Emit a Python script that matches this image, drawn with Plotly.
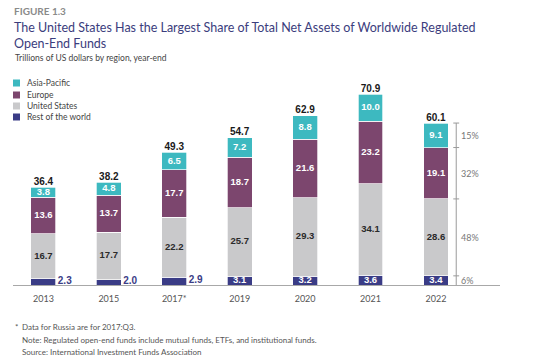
import plotly.graph_objects as go

years = ["2013", "2015", "2017*", "2019", "2020", "2021", "2022"]
asia_pacific = [3.8, 4.8, 6.5, 7.2, 8.8, 10.0, 9.1]
europe = [13.6, 13.7, 17.7, 18.7, 21.6, 23.2, 19.1]
united_states = [16.7, 17.7, 22.2, 25.7, 29.3, 34.1, 28.6]
rest_of_world = [2.3, 2.0, 2.9, 3.1, 3.2, 3.6, 3.4]
totals = [36.4, 38.2, 49.3, 54.7, 62.9, 70.9, 60.1]

C_ASIA = "#3DB9C0"
C_EUR = "#7C466E"
C_US = "#C9C9CB"
C_ROW = "#3A3C86"
TITLE_C = "#3B3D7D"

W, H = 550, 362
ML, MR, MT, MB = 13, 50, 83, 77
PW, PH = W - ML - MR, H - MT - MB

def px(x):
    return (x - ML) / PW

def py(y):
    return (H - MB - y) / PH

xs = list(range(len(years)))
BW = 0.38
VF = "Liberation Sans"
TF = "Lato"

fig = go.Figure()
series = [
    ("Rest of the world", rest_of_world, C_ROW),
    ("United States", united_states, C_US),
    ("Europe", europe, C_EUR),
    ("Asia-Pacific", asia_pacific, C_ASIA),
]
for name, vals, col in series:
    fig.add_trace(go.Bar(x=xs, y=vals, name=name, width=BW,
                         marker=dict(color=col, line=dict(color="white", width=0.7)),
                         showlegend=False, hoverinfo="y+name"))

# segment labels
base = [0.0] * len(years)
label_colors = {"Rest of the world": "white", "United States": "#2a2a2a",
                "Europe": "white", "Asia-Pacific": "white"}
for name, vals, col in series:
    mids = [b + v / 2 for b, v in zip(base, vals)]
    if name == "Rest of the world":
        inside = [i for i, v in enumerate(vals) if v >= 3]
        outside = [i for i, v in enumerate(vals) if v < 3]
        fig.add_trace(go.Scatter(x=[xs[i] for i in inside], y=[mids[i] for i in inside],
                                 mode="text", text=[f"{vals[i]:.1f}" for i in inside],
                                 textfont=dict(family=VF, size=9.5, color="white", weight="bold"),
                                 showlegend=False, hoverinfo="skip", cliponaxis=False))
        fig.add_trace(go.Scatter(x=[xs[i] + BW / 2 + 0.03 for i in outside], y=[mids[i] + 0.3 for i in outside],
                                 mode="text", textposition="middle right",
                                 text=[f"{vals[i]:.1f}" for i in outside],
                                 textfont=dict(family=VF, size=10, color=C_ROW, weight="bold"),
                                 showlegend=False, hoverinfo="skip", cliponaxis=False))
    else:
        fig.add_trace(go.Scatter(x=xs, y=mids, mode="text",
                                 text=[f"{v:.1f}" for v in vals],
                                 textfont=dict(family=VF, size=9.5, color=label_colors[name], weight="bold"),
                                 showlegend=False, hoverinfo="skip", cliponaxis=False))
    base = [b + v for b, v in zip(base, vals)]

# totals
fig.add_trace(go.Scatter(x=xs, y=base, mode="text", textposition="top center",
                         text=[f"{t:.1f}" for t in totals],
                         textfont=dict(family=VF, size=10, color="#1a1a1a", weight="bold"),
                         showlegend=False, hoverinfo="skip", cliponaxis=False))

# bracket for last year shares
last = len(years) - 1
bx = xs[last] + 0.31
tick_half = 0.045
cum = [0.0]
for name, vals, col in series:
    cum.append(cum[-1] + vals[last])
shapes = [dict(type="line", xref="x", yref="y", x0=bx, x1=bx, y0=0, y1=cum[-1],
               line=dict(color="#9a9a9a", width=1))]
for c in cum[1:]:
    shapes.append(dict(type="line", xref="x", yref="y", x0=bx - tick_half, x1=bx + tick_half,
                       y0=c, y1=c, line=dict(color="#9a9a9a", width=1)))
annotations = []
total_last = sum(s[1][last] for s in series)
for k, (name, vals, col) in enumerate(series):
    share = round(vals[last] / total_last * 100)
    annotations.append(dict(x=bx + 0.05, y=(cum[k] + cum[k + 1]) / 2, xref="x", yref="y",
                            text=f"{share}%", showarrow=False, xanchor="left", yanchor="middle",
                            font=dict(family=TF, size=9, color="#777777")))

# legend (manual)
leg_y = [83, 95, 106, 117]
for (name, vals, col), yy in zip(series[::-1], leg_y):
    shapes.append(dict(type="rect", xref="paper", yref="paper",
                       x0=px(13), x1=px(20), y0=py(yy + 3.5), y1=py(yy - 3.5),
                       fillcolor=col, line=dict(width=0)))
    annotations.append(dict(x=px(25), y=py(yy), xref="paper", yref="paper", text=name,
                            showarrow=False, xanchor="left", yanchor="middle",
                            font=dict(family=TF, size=8.5, color="#444444")))

# titles
annotations += [
    dict(x=px(12), y=py(11), xref="paper", yref="paper", text="FIGURE 1.3", showarrow=False,
         xanchor="left", yanchor="middle", font=dict(family=TF, size=10, color="#8a8a8a", weight="bold")),
    dict(x=px(12), y=py(28), xref="paper", yref="paper",
         text="The United States Has the Largest Share of Total Net Assets of Worldwide Regulated",
         showarrow=False, xanchor="left", yanchor="middle",
         font=dict(family=TF, size=12.5, color=TITLE_C)),
    dict(x=px(12), y=py(43), xref="paper", yref="paper", text="Open-End Funds",
         showarrow=False, xanchor="left", yanchor="middle",
         font=dict(family=TF, size=12.5, color=TITLE_C)),
    dict(x=px(13), y=py(58), xref="paper", yref="paper", text="Trillions of US dollars by region, year-end",
         showarrow=False, xanchor="left", yanchor="middle", font=dict(family=TF, size=8.5, color="#444444")),
    dict(x=px(13), y=py(327), xref="paper", yref="paper", text="*",
         showarrow=False, xanchor="left", yanchor="middle", font=dict(family=TF, size=8, color="#555555")),
    dict(x=px(20), y=py(327), xref="paper", yref="paper", text="Data for Russia are for 2017:Q3.",
         showarrow=False, xanchor="left", yanchor="middle", font=dict(family=TF, size=8, color="#555555")),
    dict(x=px(20), y=py(340), xref="paper", yref="paper",
         text="Note: Regulated open-end funds include mutual funds, ETFs, and institutional funds.",
         showarrow=False, xanchor="left", yanchor="middle", font=dict(family=TF, size=8, color="#555555")),
    dict(x=px(20), y=py(352), xref="paper", yref="paper", text="Source: International Investment Funds Association",
         showarrow=False, xanchor="left", yanchor="middle", font=dict(family=TF, size=8, color="#555555")),
]

x_lo = -0.465
x_hi = x_lo + PW / 65.42
fig.update_layout(
    width=W, height=H, margin=dict(l=ML, r=MR, t=MT, b=MB),
    barmode="stack", plot_bgcolor="white", paper_bgcolor="white",
    shapes=shapes, annotations=annotations, showlegend=False,
    xaxis=dict(range=[x_lo, x_hi], tickvals=xs, ticktext=years, showgrid=False, zeroline=False,
               showline=True, linecolor="#a8a8a8", linewidth=1, ticks="", ticklabelstandoff=5,
               tickfont=dict(family=TF, size=9, color="#555555")),
    yaxis=dict(range=[0, PH / 2.69], visible=False, showgrid=False, zeroline=False),
)
fig.write_html("out.html", config={"displayModeBar": False},
               post_script="document.body.style.margin='0';")
